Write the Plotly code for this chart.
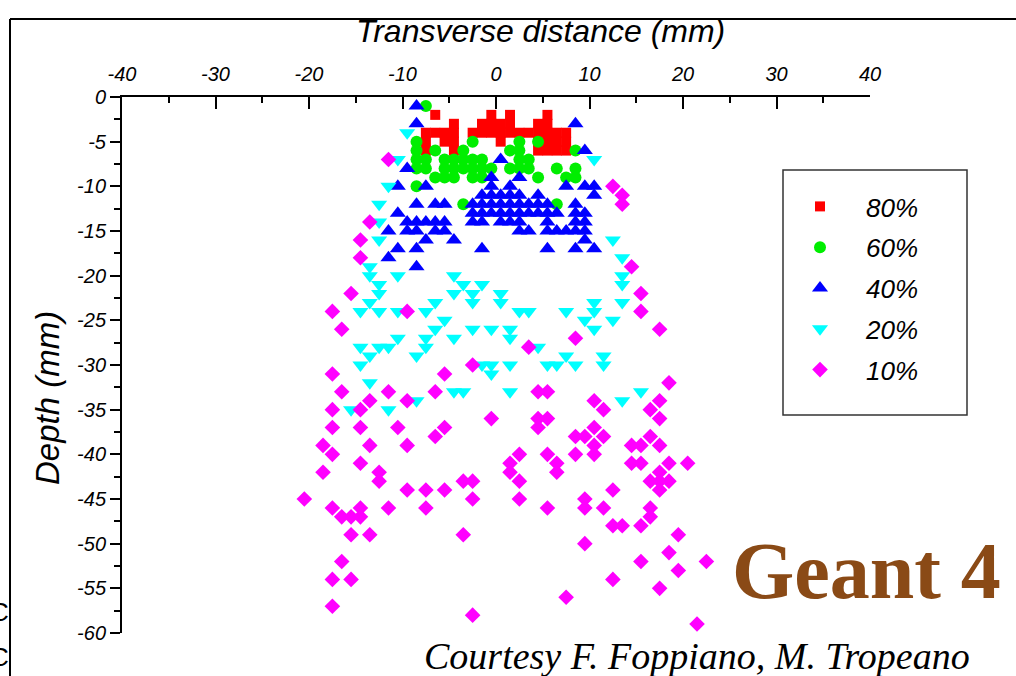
import plotly.graph_objects as go

# ---------------- data (transverse distance mm, depth mm) ----------------
x80 = [-6.5, -0.5, 1.5, 5.5,
       -4.5, -1.5, -0.5, 0.5, 1.5, 4.5, 5.5,
       -7.5, -6.5, -5.5, -4.5, -2.5, -1.5, -0.5, 0.5, 1.5, 2.5, 3.5, 4.5, 5.5, 6.5, 7.5,
       -7.5, -5.5, -4.5, 0.5, 4.5, 5.5, 6.5, 7.5,
       -7.5, -4.5, 4.5, 5.5, 6.5, 7.5]
y80 = [-2, -2, -2, -2,
       -3, -3, -3, -3, -3, -3, -3,
       -4, -4, -4, -4, -4, -4, -4, -4, -4, -4, -4, -4, -4, -4, -4,
       -5, -5, -5, -5, -5, -5, -5, -5,
       -6, -6, -6, -6, -6, -6]

x60 = [-7.5, -8.5, -8.5, -8.5, -7.5, -8.5, -7.5, -6.5, -6.5,
       -5.5, -4.5, -3.5, -2.5, -1.5,
       -5.5, -4.5, -3.5, -2.5, -1.5, -0.5,
       -5.5, -4.5, -2.5, -1.5,
       -3.5, -2.5, -8.5, -3.5,
       1.5, 2.5, 2.5, 2.5, 3.5, 3.5, 2.5, 1.5,
       4.5, 4.5, 6.5, 6.5, 7.5, 8.5, 8.5, 8.5]
y60 = [-1, -5, -6, -7, -7, -8, -8, -6, -9,
       -7, -7, -7, -7, -7,
       -8, -8, -8, -8, -8, -8,
       -9, -9, -9, -9,
       -6, -5, -10, -12,
       -6, -5, -6, -7, -7, -8, -8, -8,
       -5, -9, -8, -12, -9, -9, -8, -6]

x40 = [-8.5,
       -8.5, 8.5,
       9.5,
       0.5,
       -9.5,
       -0.5, 2.5,
       -10.5, -7.5, -0.5, 1.5, 7.5, 9.5, 10.5,
       -1.5, -0.5, 0.5, 1.5, 2.5, 4.5, 10.5,
       -8.5, -6.5, -5.5, -2.5, -1.5, -0.5, 0.5, 1.5, 2.5, 3.5, 4.5, 5.5, 8.5,
       -10.5, -2.5, -1.5, -0.5, 0.5, 1.5, 2.5, 3.5, 4.5, 5.5, 6.5, 8.5, 9.5,
       -9.5, -8.5, -7.5, -6.5, -5.5, -2.5, -1.5, 0.5, 1.5, 2.5, 5.5, 8.5, 9.5,
       -11.5, -9.5, -8.5, -6.5, -5.5, 2.5, 3.5, 5.5, 6.5, 7.5, 8.5, 9.5,
       -7.5, -4.5, 9.5,
       -10.5, -8.5, -1.5, 5.5, 8.5, 10.5,
       -11.5,
       -8.5]
y40 = [-1,
       -3, -3,
       -6,
       -7,
       -8,
       -9, -9,
       -10, -10, -10, -10, -10, -10, -10,
       -11, -11, -11, -11, -11, -11, -11,
       -12, -12, -12, -12, -12, -12, -12, -12, -12, -12, -12, -12, -12,
       -13, -13, -13, -13, -13, -13, -13, -13, -13, -13, -13, -13, -13,
       -14, -14, -14, -14, -14, -14, -14, -14, -14, -14, -14, -14, -14,
       -15, -15, -15, -15, -15, -15, -15, -15, -15, -15, -15, -15,
       -16, -16, -16,
       -17, -17, -17, -17, -17, -17,
       -18,
       -19]

x20 = [-9.5, -10.5, 10.5, -11.5, -12.5, -12.5, -12.5, 12.5, -13.5, -13.5, -10.5, -4.5, 13.5, 13.5,
       -12.5, -3.5, -1.5, 13.5,
       -12.5, -4.5, -2.5, 0.5,
       -13.5, -6.5, -2.5, 0.5, 10.5, 13.5,
       -14.5, -12.5, -10.5, -7.5, 2.5, 3.5, 7.5, 10.5,
       -5.5, 9.5, 12.5,
       -6.5, -2.5, -0.5, 1.5, 10.5,
       -10.5, -7.5, -4.5, 1.5,
       -14.5, -12.5, -11.5, -7.5, 4.5,
       -13.5, -8.5, 7.5, 11.5,
       -14.5, -1.5, -0.5, 1.5, 5.5, 6.5, 8.5, 11.5,
       -0.5,
       -13.5,
       -4.5, -3.5, 1.5, 15.5,
       -8.5, 13.5,
       -15.5, -11.5]
y20 = [-4, -7, -7, -10, -12, -14, -16, -16, -19, -20, -20, -20, -18, -20,
       -21, -21, -21, -21,
       -22, -22, -22, -22,
       -23, -23, -23, -23, -23, -23,
       -24, -24, -24, -24, -24, -24, -24, -24,
       -25, -25, -25,
       -26, -26, -26, -26, -26,
       -27, -27, -27, -27,
       -28, -28, -28, -28, -28,
       -29, -29, -29, -29,
       -30, -30, -30, -30, -30, -30, -30, -30,
       -31,
       -32,
       -33, -33, -33, -33,
       -34, -34,
       -35, -35]

x10 = [-11.5, 12.5, 13.5, 13.5, -13.5, -14.5, -14.5, 14.5,
       -15.5, 15.5,
       -17.5, -9.5, 15.5,
       -16.5, 17.5,
       8.5,
       3.5,
       -2.5,
       -17.5, -5.5,
       18.5,
       -16.5, -11.5, -6.5, 4.5, 5.5,
       -13.5, -9.5, 10.5, 17.5,
       -17.5, -14.5, 11.5, 16.5,
       -0.5, 4.5, 5.5, 17.5,
       -17.5, -14.5, -10.5, -5.5, 4.5, 10.5,
       -6.5, 8.5, 9.5, 11.5, 16.5,
       -18.5, -13.5, -9.5, 10.5, 14.5, 15.5, 17.5,
       -17.5, 2.5, 5.5, 8.5, 10.5,
       -14.5, 1.5, 6.5, 14.5, 15.5, 18.5, 20.5,
       -18.5, -12.5, 1.5, 6.5, 17.5,
       -12.5, -3.5, -2.5, 2.5, 16.5, 17.5, 18.5,
       -9.5, -7.5, -5.5, 12.5, 17.5,
       -20.5, -2.5, 2.5, 9.5,
       -17.5, -14.5, -11.5, -7.5, 5.5, 9.5, 11.5, 16.5,
       -16.5, -15.5, -14.5, 16.5,
       12.5, 13.5, 15.5,
       -15.5, -13.5, -3.5, 19.5,
       9.5,
       18.5,
       -16.5, 15.5, 22.5,
       19.5,
       -17.5, -15.5, 12.5,
       17.5,
       7.5,
       -17.5,
       -2.5,
       21.5]
y10 = [-7, -10, -11, -12, -14, -16, -18, -19,
       -22, -22,
       -24, -24, -24,
       -26, -26,
       -27,
       -28,
       -30,
       -31, -31,
       -32,
       -33, -33, -33, -33, -33,
       -34, -34, -34, -34,
       -35, -35, -35, -35,
       -36, -36, -36, -36,
       -37, -37, -37, -37, -37, -37,
       -38, -38, -38, -38, -38,
       -39, -39, -39, -39, -39, -39, -39,
       -40, -40, -40, -40, -40,
       -41, -41, -41, -41, -41, -41, -41,
       -42, -42, -42, -42, -42,
       -43, -43, -43, -43, -43, -43, -43,
       -44, -44, -44, -44, -44,
       -45, -45, -45, -45,
       -46, -46, -46, -46, -46, -46, -46, -46,
       -47, -47, -47, -47,
       -48, -48, -48,
       -49, -49, -49, -49,
       -50,
       -51,
       -52, -52, -52,
       -53,
       -54, -54, -54,
       -55,
       -56,
       -57,
       -58,
       -59]

series_names = ["80%", "60%", "40%", "20%", "10%"]
x_ticks = [-40, -30, -20, -10, 0, 10, 20, 30, 40]
x_tick_labels = ["-40", "-30", "-20", "-10", "0", "10", "20", "30", "40"]
y_ticks = [0, -5, -10, -15, -20, -25, -30, -35, -40, -45, -50, -55, -60]
y_tick_labels = ["0", "-5", "-10", "-15", "-20", "-25", "-30", "-35", "-40", "-45", "-50", "-55", "-60"]

# ---------------- figure ----------------
W, H = 1016, 676
ML, MR, MT, MB = 122, 146, 97, 43
PW, PH = W - ML - MR, H - MT - MB


def px(xp):
    return (xp - ML) / PW


def py(yp):
    return (H - MB - yp) / PH


styles = [
    dict(symbol="square", color="#FF0000", size=10),
    dict(symbol="circle", color="#00EE00", size=12),
    dict(symbol="triangle-up", color="#0000FF", size=14),
    dict(symbol="triangle-down", color="#00FFFF", size=14),
    dict(symbol="diamond", color="#FF00FF", size=12),
]
data = [(x80, y80), (x60, y60), (x40, y40), (x20, y20), (x10, y10)]

fig = go.Figure()
for (xs, ys), name, st in zip(data, series_names, styles):
    fig.add_trace(go.Scatter(
        x=xs, y=ys, mode="markers", name=name, legendgroup=name,
        marker=dict(symbol=st["symbol"], color=st["color"], size=st["size"],
                    line=dict(width=0)),
    ))

tickfont = dict(family="Liberation Sans, Arial", size=20, color="black", style="italic")

fig.update_layout(
    width=W, height=H, autosize=False,
    margin=dict(l=ML, r=MR, t=MT, b=MB, pad=0),
    paper_bgcolor="white", plot_bgcolor="white",
    font=dict(family="Liberation Sans, Arial", color="black"),
    xaxis=dict(
        range=[-40, 40], side="top", showgrid=False, zeroline=False,
        showline=True, linecolor="black", linewidth=2,
        tickmode="array", tickvals=x_ticks, ticktext=x_tick_labels,
        ticks="inside", ticklen=12, tickwidth=2, tickcolor="black",
        minor=dict(ticks="inside", ticklen=6, tickwidth=2, tickcolor="black", dtick=5, tick0=0),
        tickfont=tickfont, ticklabelstandoff=6,
    ),
    yaxis=dict(
        range=[-60, 0], showgrid=False, zeroline=False,
        showline=True, linecolor="black", linewidth=2,
        tickmode="array", tickvals=y_ticks, ticktext=y_tick_labels,
        ticks="outside", ticklen=10, tickwidth=2, tickcolor="black",
        minor=dict(ticks="outside", ticklen=6, tickwidth=2, tickcolor="black", dtick=2.5, tick0=0),
        tickfont=tickfont,
    ),
    showlegend=True,
    legend=dict(
        x=px(774), y=py(183), xanchor="left", yanchor="top",
        bgcolor="rgba(0,0,0,0)", borderwidth=0,
        font=dict(family="Liberation Sans, Arial", size=26, color="black", style="italic"),
        tracegroupgap=4, itemwidth=82,
    ),
)

# legend frame
fig.add_shape(type="rect", xref="paper", yref="paper",
              x0=px(783), x1=px(967), y0=py(415), y1=py(170),
              line=dict(color="#333333", width=1.5), fillcolor="rgba(0,0,0,0)", layer="below")
# outer frame lines (top and left)
fig.add_shape(type="line", xref="paper", yref="paper",
              x0=px(10), x1=px(1016), y0=py(19), y1=py(19), line=dict(color="black", width=2))
fig.add_shape(type="line", xref="paper", yref="paper",
              x0=px(10), x1=px(10), y0=py(19), y1=py(676), line=dict(color="black", width=2))

# titles
fig.add_annotation(text="Transverse distance (mm)", xref="paper", yref="paper",
                   x=px(540), y=py(31), xanchor="center", yanchor="middle", showarrow=False,
                   font=dict(family="Liberation Sans, Arial", size=32, color="black", style="italic"))
fig.add_annotation(text="Depth (mm)", xref="paper", yref="paper", textangle=-90,
                   x=px(47), y=py(398), xanchor="center", yanchor="middle", showarrow=False,
                   font=dict(family="Liberation Sans, Arial", size=33, color="black", style="italic"))

# Geant 4 logo
fig.add_annotation(text="<b>Geant 4</b>", xref="paper", yref="paper",
                   x=px(866), y=py(571), xanchor="center", yanchor="middle", showarrow=False,
                   font=dict(family="Liberation Serif, Times New Roman", size=80, color="#8a4a16"))

# courtesy line
fig.add_annotation(text="Courtesy F. Foppiano, M. Tropeano", xref="paper", yref="paper",
                   x=px(697), y=py(656), xanchor="center", yanchor="middle", showarrow=False,
                   font=dict(family="Liberation Serif, Times New Roman", size=38, color="black", style="italic"))

# clipped glyphs at the left edge
for yy in (612, 657):
    fig.add_annotation(text="C", xref="paper", yref="paper",
                       x=px(11), y=py(yy), xanchor="right", yanchor="middle", showarrow=False,
                       font=dict(family="Liberation Sans, Arial", size=26, color="black"))

fig.write_html("out.html", config={"displayModeBar": False},
               post_script="document.body.style.margin='0px';")
